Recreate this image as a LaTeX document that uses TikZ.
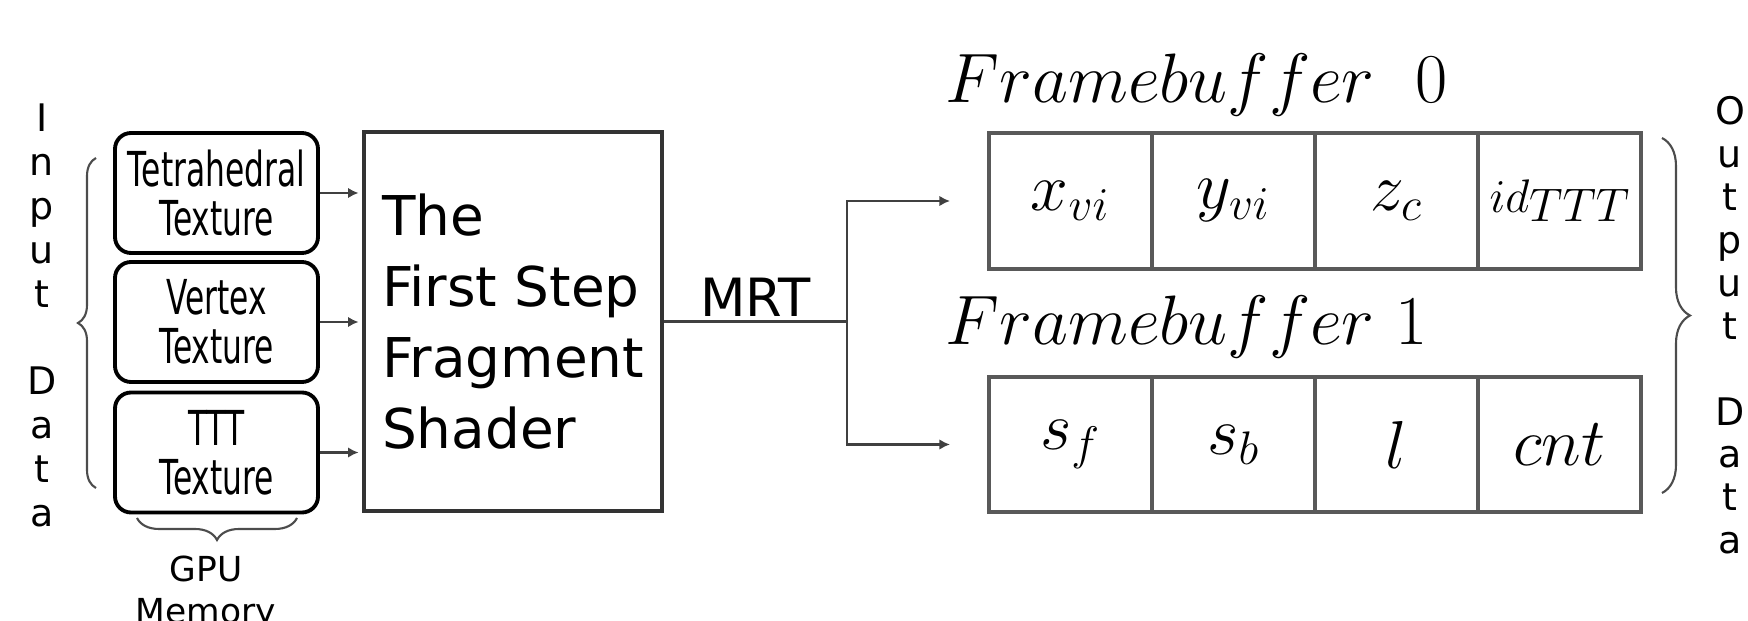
\documentclass[tikz,border=0pt]{standalone}
\usepackage{fontspec}
\newfontfamily\dejavu{DejaVu Sans}
\newfontfamily\dejavunarrow[FakeStretch=0.65]{DejaVu Sans}
\usetikzlibrary{arrows.meta,decorations.pathreplacing,calc}
\tikzset{>={Latex[length=3pt,width=3pt]}}

\begin{document}
\begin{tikzpicture}[
  texbox/.style={draw, line width=1.1pt, rounded corners=0.16cm, minimum width=2.03cm,
    minimum height=1.2cm, inner sep=0pt, align=center,
    font=\dejavunarrow\fontsize{13.7}{13.9}\selectfont},
  fbcell/.style={draw=black!65, line width=0.9pt, minimum width=1.63cm, minimum height=1.36cm,
    inner sep=0pt, outer sep=0pt, font=\fontsize{20}{24}\selectfont},
  fbtitle/.style={anchor=base west, inner sep=0pt, font=\fontsize{20}{24}\selectfont},
  letters/.style={align=center, inner sep=0pt, font=\dejavu\fontsize{10.8}{12.5}\selectfont},
  curly/.style={draw=black!70, line width=0.6pt, decorate, decoration={brace, amplitude=#1}},
  wire/.style={draw=black!75, line width=0.7pt}
]
\useasboundingbox (0,0) rectangle (17.48,-6.21);

% input side
\node[letters] (input) at (0.42,-3.155) {I\\n\\p\\u\\t\\~\\D\\a\\t\\a};
\draw[curly=0.18cm] (0.96,-4.88) -- (0.96,-1.58);

\node[texbox] (tet) at (2.165,-1.93) {Tetrahedral\\Texture};
\node[texbox] (vtx) at (2.165,-3.22) {Vertex\\Texture};
\node[texbox] (ttt) at (2.165,-4.525) {TTT\\Texture};

\draw[curly=0.22cm] (2.97,-5.18) -- (1.37,-5.18);
\node[align=center, inner sep=0pt, anchor=north, font=\dejavu\fontsize{9.8}{12}\selectfont]
  (gpu) at (2.06,-5.55) {GPU\\Memory};

% shader
\node[draw=black!80, line width=1.1pt, minimum width=2.98cm, minimum height=3.79cm, align=left,
  font=\dejavu\fontsize{15.6}{20.2}\selectfont] (shader) at (5.13,-3.215)
  {The\\First Step\\Fragment\\Shader};

\foreach \src in {tet,vtx,ttt}
  \draw[->, wire, line width=0.6pt, shorten >=1pt] (\src.east) -- (\src.east -| shader.west);

% MRT split
\coordinate (split) at (8.47,-3.215);
\draw[wire] (shader.east) -- node[above, inner sep=1pt, font=\dejavu\fontsize{15}{18}\selectfont] {MRT} (split);

% framebuffers
\node[fbtitle] (title0) at (9.45,-1.03) {\scalebox{0.96}{$Framebuffer\ \ 0$}};
\node[fbtitle] (title1) at (9.45,-3.45) {\scalebox{0.96}{$Framebuffer\ 1$}};

\foreach \txt [count=\i] in {{$x_{vi}$},{$y_{vi}$},{$z_c$},
    {$\scriptstyle id$\raisebox{-2.8pt}{$\scriptstyle TTT$}}}
  \node[fbcell] (fb0-\i) at ({9.89+1.63*(\i-0.5)},-2.01) {\scalebox{0.93}{\txt}};
\foreach \txt [count=\i] in {{$s_f$},{$s_b$},{$l$},{$cnt$}}
  \node[fbcell, minimum height=1.35cm] (fb1-\i) at ({9.89+1.63*(\i-0.5)},-4.445) {\scalebox{0.93}{\txt}};

\draw[->, wire, shorten >=0.39cm] (split) |- (fb0-1.west);
\draw[->, wire, shorten >=0.39cm] (split) |- (fb1-1.west);

% output side
\draw[curly=0.28cm] (16.62,-1.38) -- (16.62,-4.93);
\node[letters, font=\dejavu\fontsize{10.8}{12.2}\selectfont] (output) at (17.30,-3.255)
  {O\\u\\t\\p\\u\\t\\~\\D\\a\\t\\a};
\end{tikzpicture}
\end{document}
